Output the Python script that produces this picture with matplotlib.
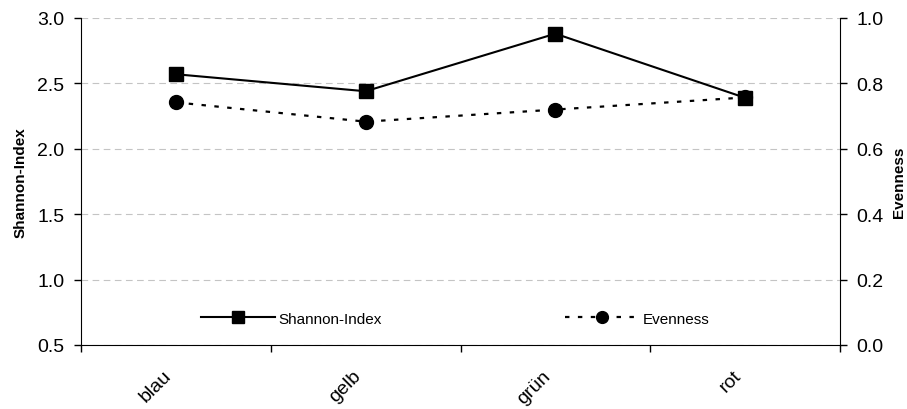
import matplotlib
matplotlib.use("Agg")
import matplotlib.pyplot as plt
import matplotlib.transforms as mtransforms
from matplotlib.ticker import FixedLocator, NullFormatter

plt.rcParams["font.family"] = ["Liberation Sans", "DejaVu Sans"]

# ── data ─────────────────────────────────────────────
categories = ["blau", "gelb", "grün", "rot"]
shannon = [2.57, 2.44, 2.88, 2.39]
evenness = [0.742, 0.683, 0.720, 0.757]
left_ticks = [0.5, 1.0, 1.5, 2.0, 2.5, 3.0]
right_ticks = [0.0, 0.2, 0.4, 0.6, 0.8, 1.0]

# ── figure ───────────────────────────────────────────
fig = plt.figure(figsize=(9.07, 4.10), dpi=100)
ax = fig.add_axes([81 / 907, 1 - 346 / 410, (840 - 81) / 907, (346 - 19) / 410])
ax2 = ax.twinx()

x = list(range(len(categories)))
l1, = ax.plot(x, shannon, "-", color="black", lw=1.5, marker="s", ms=10,
              label="Shannon-Index")
l2, = ax2.plot(x, evenness, color="black", lw=1.6, ls=(0, (2, 3.8)),
               marker="o", ms=10, label="Evenness")

ax.set_xlim(-0.5, len(categories) - 0.5)
ax.set_ylim(0.5, 3.0)
ax2.set_ylim(0.0, 1.0)
ax.set_yticks(left_ticks)
ax2.set_yticks(right_ticks)
ax.set_yticklabels([f"{v:.1f}" for v in left_ticks], fontsize=14)
ax2.set_yticklabels([f"{v:.1f}" for v in right_ticks], fontsize=14)

# category labels between boundary ticks (Excel style)
ax.set_xticks(x)
ax.set_xticklabels(categories, rotation=45, ha="right", va="center",
                   rotation_mode="anchor", fontsize=14)
ax.tick_params(axis="x", which="major", length=0, pad=20)
shift = mtransforms.ScaledTranslation(-7 / 100, 0, fig.dpi_scale_trans)
for lbl in ax.get_xticklabels():
    lbl.set_transform(lbl.get_transform() + shift)
ax.xaxis.set_minor_locator(FixedLocator([i - 0.5 for i in range(len(categories) + 1)]))
ax.xaxis.set_minor_formatter(NullFormatter())
ax.tick_params(axis="x", which="minor", length=5, direction="out", width=1)
ax.tick_params(axis="y", length=5, direction="out", width=1, pad=7)
ax2.tick_params(axis="y", length=5, direction="out", width=1, pad=7)

ax.grid(axis="y", color="#c4c4c4", ls=(0, (6, 4)), lw=0.8)
ax.set_axisbelow(True)
for a in (ax, ax2):
    a.spines["top"].set_visible(False)
ax.spines["right"].set_visible(False)
ax2.spines["left"].set_visible(False)
ax2.spines["bottom"].set_visible(False)

ax.set_ylabel("Shannon-Index", fontsize=11, fontweight="bold")
ax2.set_ylabel("Evenness", fontsize=11, fontweight="bold")
ax.yaxis.set_label_coords(-0.071, 0.5)
ax2.yaxis.set_label_coords(1.068, 0.5)

ax2.legend([l1, l2], ["Shannon-Index", "Evenness"], loc="center",
           bbox_to_anchor=(0.493, 0.08), ncol=2, frameon=False, fontsize=11,
           handlelength=4.85, columnspacing=12, handletextpad=0.2,
           markerscale=0.85)

fig.savefig("out.png", dpi=100)
